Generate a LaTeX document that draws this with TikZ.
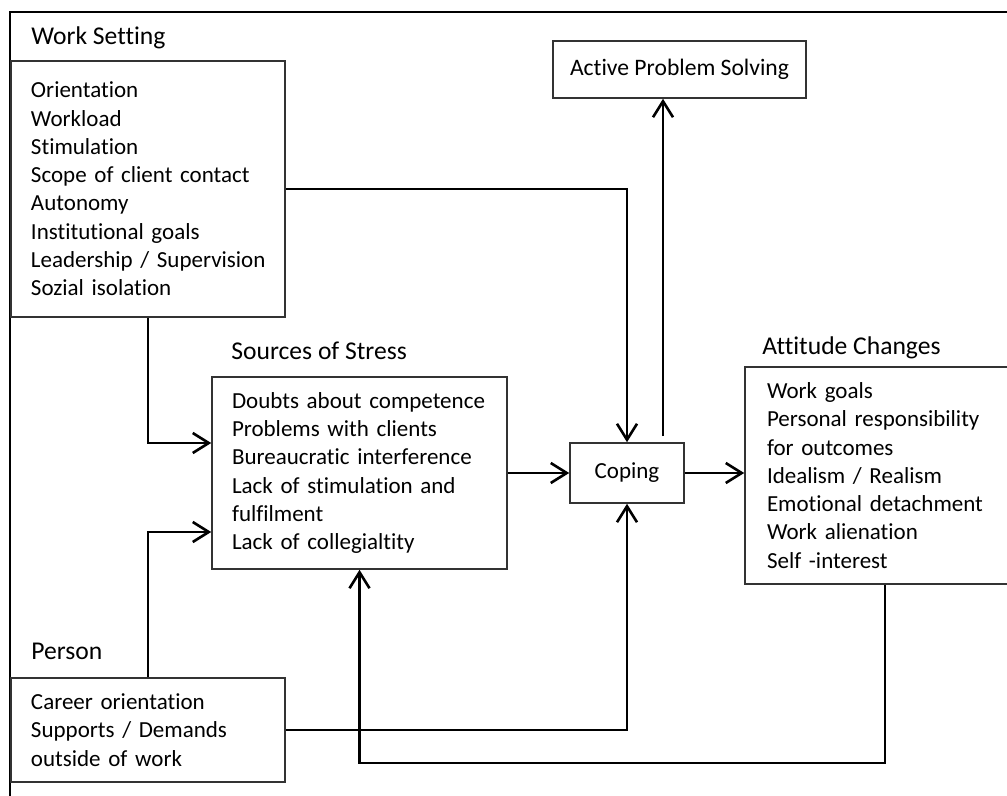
\documentclass[tikz,border=0pt]{standalone}
\usepackage{fontspec}
\setmainfont{Carlito}[Ligatures={NoCommon}]
\usetikzlibrary{arrows.meta}

\begin{document}
\begin{tikzpicture}[x=0.5pt,y=-0.5pt,
    box/.style={draw=black!80, line width=0.8pt, rectangle, align=left,
      inner xsep=10pt, inner ysep=0pt, font=\fontsize{11.5}{14.15}\selectfont,
      execute at begin node={\hyphenpenalty=10000\relax}},
    caption/.style={anchor=base west, inner sep=0pt, font=\fontsize{12.8}{15}\selectfont},
    link/.style={line width=1.3pt, -{Straight Barb[length=8pt,width=10pt,line width=1.3pt]}}]
        \useasboundingbox (0,0) rectangle (1007,796);
        % frame
        \draw [black, line width=1pt] (10,820) |- (1030,12);
        % labels
        \node [caption] (worklbl) at (31,45) {Work Setting};
        \node [caption] (stresslbl) at (231,360) {Sources of Stress};
        \node [caption] (personlbl) at (31,659) {Person};
        \node [caption] (attitudelbl) at (762,355) {Attitude Changes};
        % boxes
        \node [box, text width=117pt, minimum height=128pt] (work) at (148,189)
          {Orientation\\Workload\\Stimulation\\Scope of client contact\\Autonomy\\Institutional goals\\\mbox{Leadership / Supervision}\\Sozial isolation};
        \node [box, text width=127.5pt, minimum height=96pt] (stress) at (359.5,473)
          {Doubts about competence\\Problems with clients\\Bureaucratic interference\\Lack of stimulation and\\fulfilment\\Lack of collegialtity};
        \node [box, text width=117pt, minimum height=52pt] (person) at (148,730)
          {Career orientation\\Supports / Demands\\outside of work};
        \node [box, inner xsep=11pt, text width=118pt, minimum height=108.5pt] (attitude) at (885,475.5)
          {Work goals\\Personal responsibility\\for outcomes\\Idealism / Realism\\Emotional detachment\\Work alienation\\Self -interest};
        \node [box, inner xsep=0pt, minimum width=57pt, minimum height=30pt] (coping) at (627,473) {Coping};
        \node [box, inner xsep=0pt, minimum width=126.5pt, minimum height=28.5pt,
          font=\fontsize{11.8}{14}\selectfont] (solving) at (679.5,69.5) {Active Problem Solving};
        % connectors
        \draw [link] (work.east) -| (coping.north);
        \draw [link] ([xshift=18pt,yshift=3pt]coping.north) -- ([xshift=18pt]coping.north |- solving.south);
        \draw [link] (work.south) |- ([yshift=15pt]stress.west);
        \draw [link] (person.north) |- ([yshift=-29.5pt]stress.west);
        \draw [link] (stress.east) -- (coping.west);
        \draw [link] (coping.east) -- (coping.east -| attitude.west);
        \draw [link] (person.east) -| (coping.south);
        \draw [link] (attitude.south) -- ++(0,178) -| (stress.south);
\end{tikzpicture}
\end{document}
